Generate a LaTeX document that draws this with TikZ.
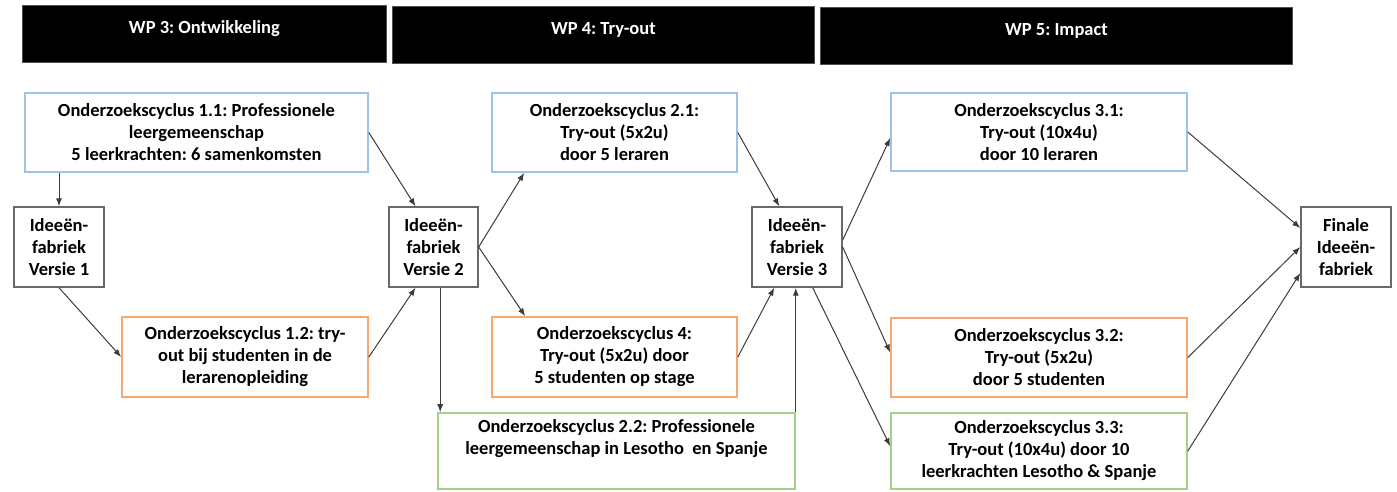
\documentclass[tikz,border=0pt]{standalone}
\usepackage{fontspec}
\setmainfont{Carlito}
\usetikzlibrary{arrows.meta,calc}
\frenchspacing
\definecolor{cblue}{RGB}{157,195,230}
\definecolor{corange}{RGB}{246,168,110}
\definecolor{cgreen}{RGB}{165,208,138}
\definecolor{cgray}{RGB}{105,105,105}
\definecolor{carrow}{RGB}{60,60,60}
\tikzset{
  txt/.style={font=\fontsize{18.5}{22}\selectfont\bfseries, align=center, inner sep=0pt},
  hdr/.style={txt, anchor=north west, fill=black, draw={rgb,255:red,80;green,80;blue,80}, line width=0.8pt,
     text=white, text height=28.5pt, text depth=28.5pt},
  boxb/.style={txt, draw=cblue, line width=1.6pt},
  boxo/.style={txt, draw=corange, line width=1.6pt},
  boxg/.style={txt, draw=cgreen, line width=1.6pt},
  ifbox/.style={txt, draw=cgray, line width=1.4pt, minimum width=90pt, minimum height=80pt},
  arr/.style={draw=carrow, line width=1pt, -{Latex[length=8pt,width=6pt]}}
}
\begin{document}
\begin{tikzpicture}[x=1pt,y=-1pt]
\useasboundingbox (0,0) rectangle (1397,491);
% header bars
\node[hdr, minimum width=364pt] (h3) at (22,5) {WP 3: Ontwikkeling};
\node[hdr, minimum width=422pt] (h4) at (392,6) {WP 4: Try-out};
\node[hdr, minimum width=472pt] (h5) at (820,7) {WP 5: Impact};
% boxes
\node[boxb, minimum width=343pt, minimum height=79pt] (c11) at (196.5,132.5)
  {Onderzoekscyclus 1.1: Professionele\\leergemeenschap\\5 leerkrachten: 6 samenkomsten};
\node[ifbox] (if1) at (59,247) {Ideeën-\\fabriek\\Versie 1};
\node[boxo, minimum width=246pt, minimum height=80pt] (c12) at (245,357)
  {Onderzoekscyclus 1.2: try-\\out bij studenten in de\\lerarenopleiding};
\node[ifbox, minimum width=89pt] (if2) at (433.5,247) {Ideeën-\\fabriek\\Versie 2};
\node[boxb, minimum width=245pt, minimum height=79pt] (c21) at (614.5,132.5)
  {Onderzoekscyclus 2.1:\\Try-out (5x2u)\\door 5 leraren};
\node[boxo, minimum width=245pt, minimum height=80pt] (c4) at (614.5,357)
  {Onderzoekscyclus 4:\\Try-out (5x2u) door\\5 studenten op stage};
\node[boxg, minimum width=357pt, minimum height=76pt] (c22) at (616.5,451)
  {Onderzoekscyclus 2.2: Professionele\\leergemeenschap in Lesotho\ \ en Spanje\\\strut};
\node[ifbox] (if3) at (797,247) {Ideeën-\\fabriek\\Versie 3};
\node[boxb, minimum width=296pt, minimum height=78pt] (c31) at (1039,132)
  {Onderzoekscyclus 3.1:\\Try-out (10x4u)\\door 10 leraren};
\node[boxo, minimum width=296pt, minimum height=79pt] (c32) at (1039,357.5)
  {Onderzoekscyclus 3.2:\\Try-out (5x2u)\\door 5 studenten};
\node[boxg, minimum width=296pt, minimum height=76pt] (c33) at (1039,451)
  {Onderzoekscyclus 3.3:\\Try-out (10x4u) door 10\\leerkrachten Lesotho \& Spanje};
\node[ifbox] (fin) at (1346,247) {Finale\\Ideeën-\\fabriek};
% connectors
\draw[arr] (if1.north |- c11.south) -- (if1.north);
\draw[arr] (c11.east) -- ([xshift=-18pt]if2.north);
\draw[arr] (if1.south) -- (c12.west);
\draw[arr] (c12.east) -- ([xshift=-18pt]if2.south);
\draw[arr] (if2.east) -- ([xshift=33pt]c21.south west);
\draw[arr] (if2.east) -- ([xshift=34pt]c4.north west);
\coordinate (p7) at ($(c22.north west)+(3,0)$);
\draw[arr] (p7 |- if2.south) -- (p7);
\draw[arr] (c4.east) -- ([xshift=23pt]if3.south west);
\draw[arr] (c22.north east) -- (c22.north east |- if3.south);
\draw[arr] (c21.east) -- ([xshift=28pt]if3.north west);
\draw[arr] ([yshift=7pt]if3.east) -- ([yshift=-6pt]c31.west);
\draw[arr] (if3.east) -- ([yshift=5pt]c32.west);
\draw[arr] ([xshift=-30pt]if3.south east) -- ([yshift=-34pt]c33.north west);
\draw[arr] (c31.east) -- ([yshift=19pt]fin.west);
\draw[arr] (c32.east) -- (fin.west);
\draw[arr] (c33.east) -- ([yshift=-26pt]fin.west);
\end{tikzpicture}
\end{document}
